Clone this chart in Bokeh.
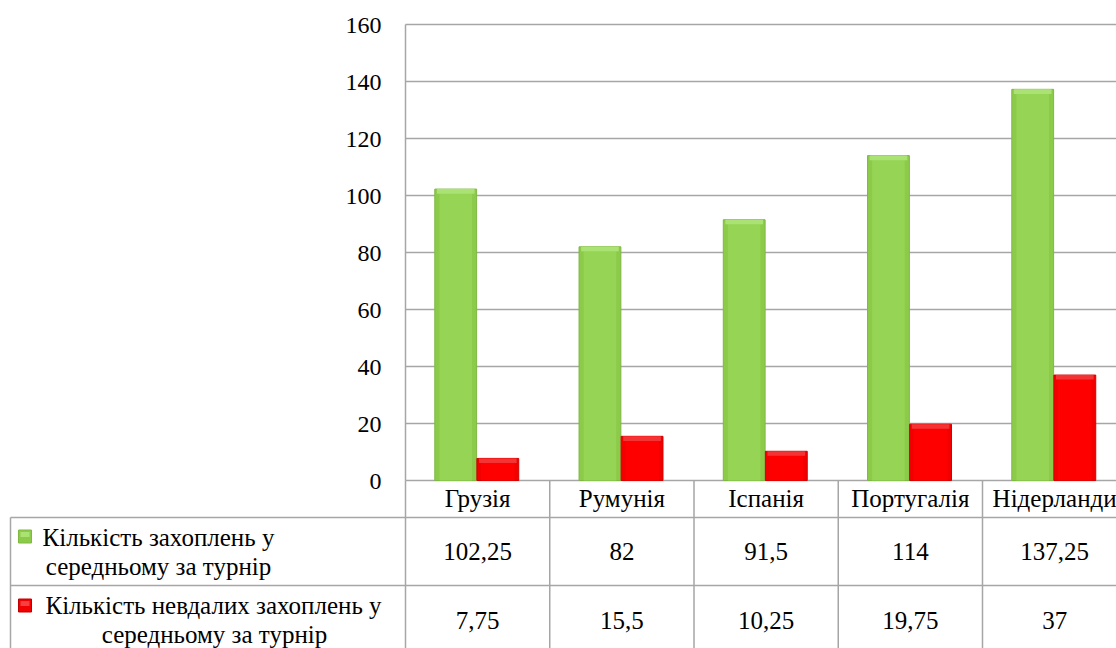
from bokeh.plotting import figure
from bokeh.models import Range1d, ColumnDataSource
from bokeh.embed import file_html
from bokeh.resources import INLINE
from bokeh.core.properties import value

categories = ["Грузія", "Румунія", "Іспанія", "Португалія", "Нідерланди"]
captures = [102.25, 82, 91.5, 114, 137.25]
failed = [7.75, 15.5, 10.25, 19.75, 37]
captures_labels = ["102,25", "82", "91,5", "114", "137,25"]
failed_labels = ["7,75", "15,5", "10,25", "19,75", "37"]
y_ticks = [0, 20, 40, 60, 80, 100, 120, 140, 160]
series_names = [["Кількість захоплень у", "середньому за турнір"],
                ["Кількість невдалих захоплень у", "середньому за турнір"]]

FONT = value("Liberation Serif")
FS = "25px"
GRID = "#A6A6A6"
GREEN = "#92D050"
RED = "#FF0000"

W_PX, H_PX = 1116, 648
X0_PX = 405
CW = 144.25
Y0_PX = 480
PPU = 2.85

x_lo = (0 - X0_PX) / CW
x_hi = (W_PX - X0_PX) / CW
y_hi = Y0_PX / PPU
y_lo = (Y0_PX - H_PX) / PPU


def px_x(sx):
    return (sx - X0_PX) / CW


def px_y(sy):
    return (Y0_PX - sy) / PPU


p = figure(width=W_PX, height=H_PX, output_backend="svg", toolbar_location=None,
           x_range=Range1d(x_lo, x_hi), y_range=Range1d(y_lo, y_hi),
           min_border_left=0, min_border_right=0, min_border_top=0, min_border_bottom=0,
           x_axis_location=None, y_axis_location=None)
p.outline_line_color = None
p.background_fill_color = "white"
p.border_fill_color = "white"
p.xgrid.visible = False
p.ygrid.visible = False

n = len(categories)
xs_center = [i + 0.5 for i in range(n)]

# value gridlines, axis line and y tick labels
p.segment(x0=[0] * len(y_ticks), x1=[x_hi] * len(y_ticks), y0=y_ticks, y1=y_ticks,
          line_color=GRID, line_width=1.5)
p.segment(x0=[0], x1=[0], y0=[0], y1=[160], line_color=GRID, line_width=1.5)
p.text(x=[px_x(381)] * len(y_ticks), y=[v - 0.5 for v in y_ticks],
       text=[str(v) for v in y_ticks],
       text_font=FONT, text_font_size="24px", text_align="right",
       text_baseline="middle", text_color="black")

# bars
src = ColumnDataSource(dict(
    xg=[c - 0.152 for c in xs_center], xr=[c + 0.14 for c in xs_center],
    cap=captures, fail=failed,
    cap_hi=[v - 1.6 for v in captures], fail_hi=[v - 1.6 for v in failed],
))
W = 0.29
p.vbar(x="xg", width=W, top="cap", bottom=0, source=src, fill_color="#8CCB4A",
       line_color="#7FB844", line_width=1)
p.vbar(x="xg", width=W * 0.78, top="cap", bottom=0, source=src, fill_color="#95D454",
       line_color=None)
p.vbar(x="xg", width=W * 0.9, top="cap", bottom="cap_hi", source=src, fill_color="#ABE274",
       line_color=None)
p.vbar(x="xr", width=W, top="fail", bottom=0, source=src, fill_color="#F20000",
       line_color="#D00000", line_width=1)
p.vbar(x="xr", width=W * 0.8, top="fail", bottom=0, source=src, fill_color=RED,
       line_color=None)
p.vbar(x="xr", width=W * 0.9, top="fail", bottom="fail_hi", source=src, fill_color="#F43434",
       line_color=None)

# data table grid
x_left = px_x(10)
hy = [px_y(517), px_y(585)]
p.segment(x0=[x_left] * 2, x1=[x_hi] * 2, y0=hy, y1=hy, line_color=GRID, line_width=1.5)
bounds = list(range(n + 1))
p.segment(x0=bounds, x1=bounds, y0=[0] * len(bounds), y1=[y_lo] * len(bounds),
          line_color=GRID, line_width=1.5)
p.segment(x0=[x_left], x1=[x_left], y0=[px_y(517)], y1=[y_lo],
          line_color=GRID, line_width=1.5)

# table texts
p.text(x=xs_center, y=[px_y(498)] * n, text=categories,
       text_font=FONT, text_font_size=FS, text_align="center",
       text_baseline="middle", text_color="black")
p.text(x=xs_center, y=[px_y(551)] * n, text=captures_labels,
       text_font=FONT, text_font_size=FS, text_align="center",
       text_baseline="middle", text_color="black")
p.text(x=xs_center, y=[px_y(620)] * n, text=failed_labels,
       text_font=FONT, text_font_size=FS, text_align="center",
       text_baseline="middle", text_color="black")

p.text(x=[px_x(158), px_x(158), px_x(213), px_x(214)],
       y=[px_y(537), px_y(566), px_y(605), px_y(634)],
       text=[series_names[0][0], series_names[0][1], series_names[1][0], series_names[1][1]],
       text_font=FONT, text_font_size=FS, text_align="center",
       text_baseline="middle", text_color="black")

# legend keys
p.rect(x=[px_x(24.5), px_x(24.5)], y=[px_y(536), px_y(605)],
       width=13 / CW, height=13 / PPU, fill_color=["#8CCB4A", "#F00000"],
       line_color=["#7FB940", "#C00000"], line_width=1)
p.rect(x=[px_x(24.5), px_x(24.5)], y=[px_y(534), px_y(603)],
       width=9 / CW, height=5 / PPU, fill_color=["#ABE274", "#F44040"],
       line_color=None)

open("out.html", "w").write(file_html(p, INLINE))
